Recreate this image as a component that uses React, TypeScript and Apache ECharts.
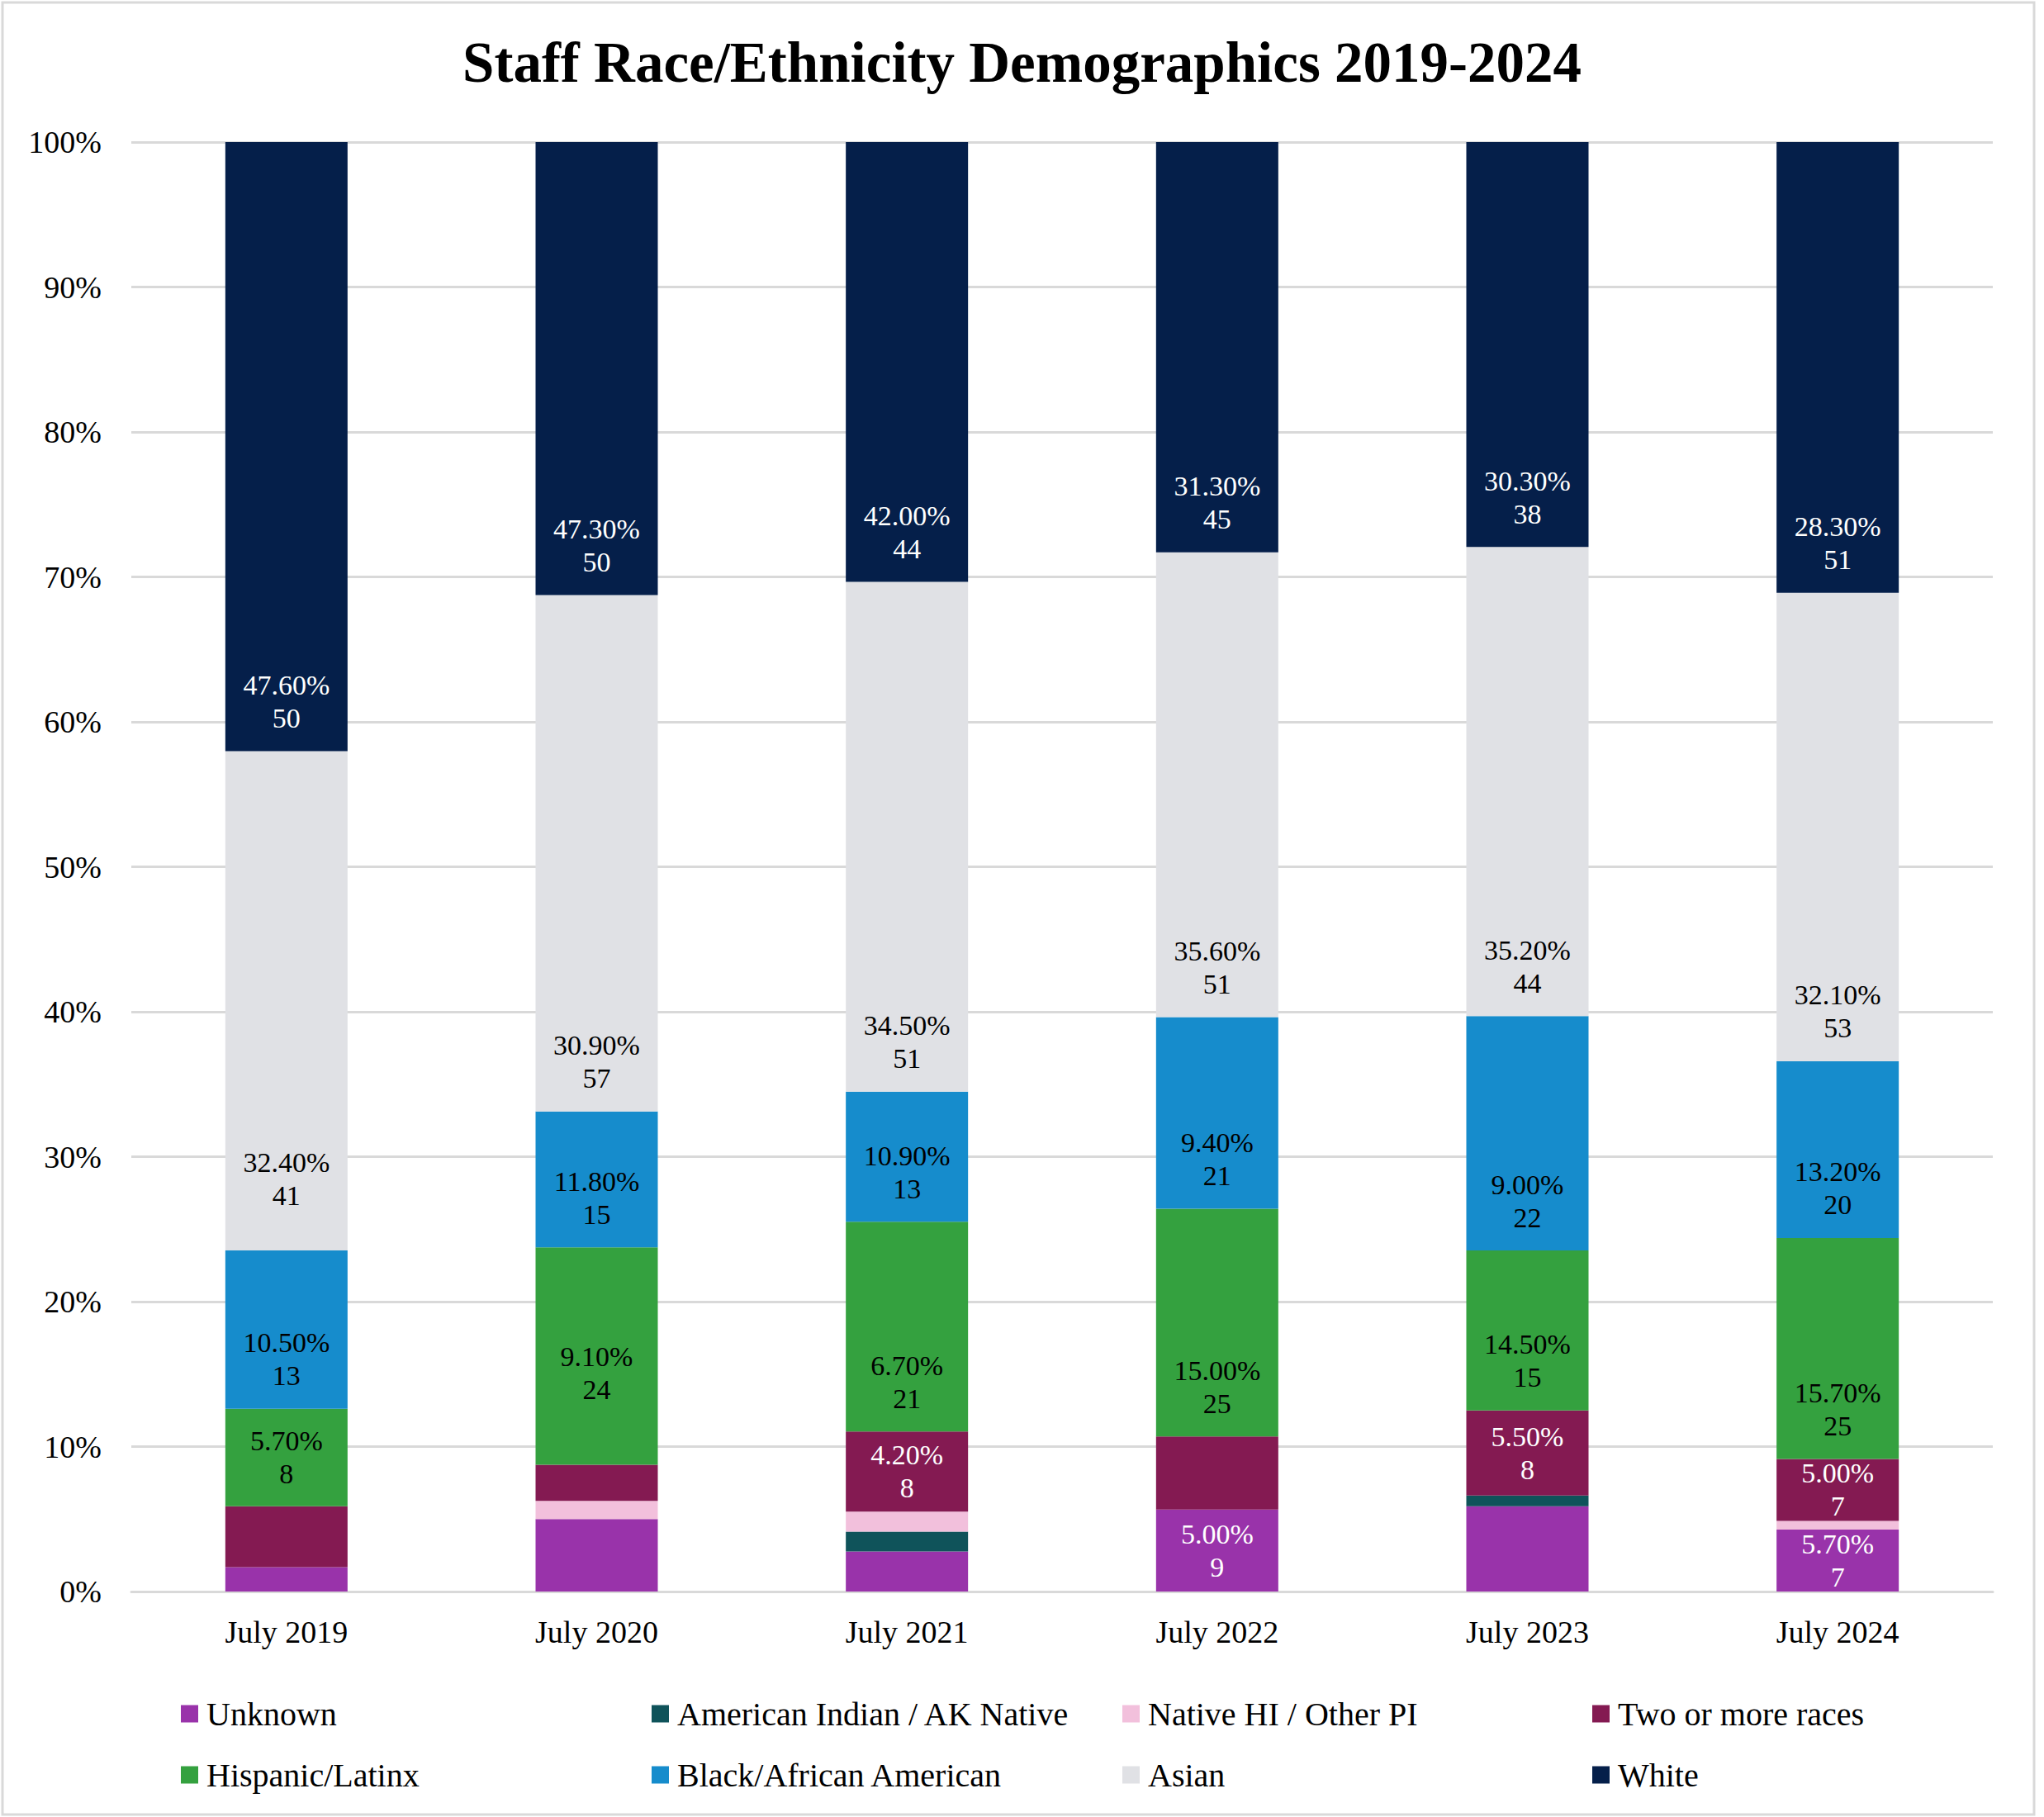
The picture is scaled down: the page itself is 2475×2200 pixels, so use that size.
import React, { useEffect, useRef } from "react";
import * as echarts from "echarts";

const categories = ["July 2019", "July 2020", "July 2021", "July 2022", "July 2023", "July 2024"];

const seriesNames = [
  "Unknown",
  "American Indian / AK Native",
  "Native HI / Other PI",
  "Two or more races",
  "Hispanic/Latinx",
  "Black/African American",
  "Asian",
  "White",
];

// head counts (segment heights are each count's share of the year's total)
const unknownCounts = [2, 8, 4, 9, 8, 7];
const amIndianCounts = [0, 0, 2, 0, 1, 0];
const nativeHICounts = [0, 2, 2, 0, 0, 1];
const twoOrMoreCounts = [5, 4, 8, 8, 8, 7];
const hispanicCounts = [8, 24, 21, 25, 15, 25];
const blackCounts = [13, 15, 13, 21, 22, 20];
const asianCounts = [41, 57, 51, 51, 44, 53];
const whiteCounts = [50, 50, 44, 45, 38, 51];

// percentages printed in the data labels (null = no label)
const unknownPctLabels = [null, null, null, 5.0, null, 5.7];
const amIndianPctLabels = [null, null, null, null, null, null];
const nativeHIPctLabels = [null, null, null, null, null, null];
const twoOrMorePctLabels = [null, null, 4.2, null, 5.5, 5.0];
const hispanicPctLabels = [5.7, 9.1, 6.7, 15.0, 14.5, 15.7];
const blackPctLabels = [10.5, 11.8, 10.9, 9.4, 9.0, 13.2];
const asianPctLabels = [32.4, 30.9, 34.5, 35.6, 35.2, 32.1];
const whitePctLabels = [47.6, 47.3, 42.0, 31.3, 30.3, 28.3];

const allCounts = [
  unknownCounts,
  amIndianCounts,
  nativeHICounts,
  twoOrMoreCounts,
  hispanicCounts,
  blackCounts,
  asianCounts,
  whiteCounts,
];
const allPctLabels = [
  unknownPctLabels,
  amIndianPctLabels,
  nativeHIPctLabels,
  twoOrMorePctLabels,
  hispanicPctLabels,
  blackPctLabels,
  asianPctLabels,
  whitePctLabels,
];

const colors = ["#9933aa", "#0f535a", "#f2c0dc", "#841a52", "#34a13f", "#168ccc", "#e0e1e5", "#051f4a"];
const labelColors = ["#ffffff", "#ffffff", "#000000", "#ffffff", "#000000", "#000000", "#000000", "#ffffff"];

// layout nudges for labels that sit higher in the original (series index, category index, extra px)
const labelNudges: Record<string, number> = { "6-0": 27, "4-1": 51 };

const FONT = "'Liberation Serif', 'Times New Roman', serif";

export default function App() {
  const ref = useRef<HTMLDivElement>(null);

  useEffect(() => {
    if (!ref.current) return;
    const chart = echarts.init(ref.current, null, { renderer: "svg" });

    const totals = categories.map((_, i) => allCounts.reduce((s, arr) => s + arr[i], 0));

    const series = seriesNames.map((name, si) => ({
      name,
      type: "bar",
      stack: "total",
      barWidth: 148,
      itemStyle: { color: colors[si] },
      label: {
        show: false,
        color: labelColors[si],
        fontFamily: FONT,
        fontSize: 34,
        lineHeight: 40,
      },
      emphasis: { disabled: true },
      data: allCounts[si].map((c, i) => {
        const pct = (c / totals[i]) * 100;
        const lbl = allPctLabels[si][i];
        const item: any = { value: pct };
        if (lbl != null) {
          const small = pct < 7;
          const nudge = labelNudges[`${si}-${i}`] || 0;
          item.label = {
            show: true,
            position: small ? "inside" : "insideBottom",
            distance: small ? 5 : 20 + nudge,
            formatter: `${lbl.toFixed(2)}%\n${c}`,
          };
        }
        return item;
      }),
    }));

    const legendCols = [
      [seriesNames[0], seriesNames[4]],
      [seriesNames[1], seriesNames[5]],
      [seriesNames[2], seriesNames[6]],
      [seriesNames[3], seriesNames[7]],
    ];
    const legendLefts = [219, 789, 1359, 1928];

    const legend = legendCols.map((data, k) => ({
      data,
      orient: "vertical",
      left: legendLefts[k],
      top: 2055,
      itemWidth: 21,
      itemHeight: 21,
      itemGap: 34,
      icon: "rect",
      selectedMode: false,
      padding: 0,
      textStyle: {
        fontFamily: FONT,
        fontSize: 40,
        lineHeight: 40,
        color: "#000000",
        padding: [0, 0, 0, 5],
      },
    }));

    chart.setOption({
      animation: false,
      backgroundColor: "#ffffff",
      title: {
        text: "Staff Race/Ethnicity Demographics 2019-2024",
        left: "center",
        top: 36,
        textStyle: {
          fontFamily: FONT,
          fontWeight: "bold",
          fontSize: 69,
          color: "#000000",
        },
      },
      legend,
      grid: { left: 159, right: 62, top: 172, bottom: 273 },
      xAxis: {
        type: "category",
        data: categories,
        axisTick: { show: false },
        axisLine: { lineStyle: { color: "#d9d9d9", width: 3 } },
        axisLabel: { fontFamily: FONT, fontSize: 38, color: "#000000", margin: 30 },
      },
      yAxis: {
        type: "value",
        min: 0,
        max: 100,
        interval: 10,
        axisLabel: { fontFamily: FONT, fontSize: 38, color: "#000000", margin: 36, formatter: "{value}%" },
        axisLine: { show: false },
        axisTick: { show: false },
        splitLine: { lineStyle: { color: "#d9d9d9", width: 3 } },
      },
      graphic: [
        {
          type: "rect",
          shape: { x: 3, y: 3, width: 2460, height: 2194 },
          style: { fill: "none", stroke: "#d9d9d9", lineWidth: 3 },
          silent: true,
        },
      ],
      series,
    });

    return () => chart.dispose();
  }, []);

  return (
    <div
      ref={ref}
      style={{ position: "fixed", left: 0, top: 0, width: 2475, height: 2200, background: "#ffffff" }}
    />
  );
}
